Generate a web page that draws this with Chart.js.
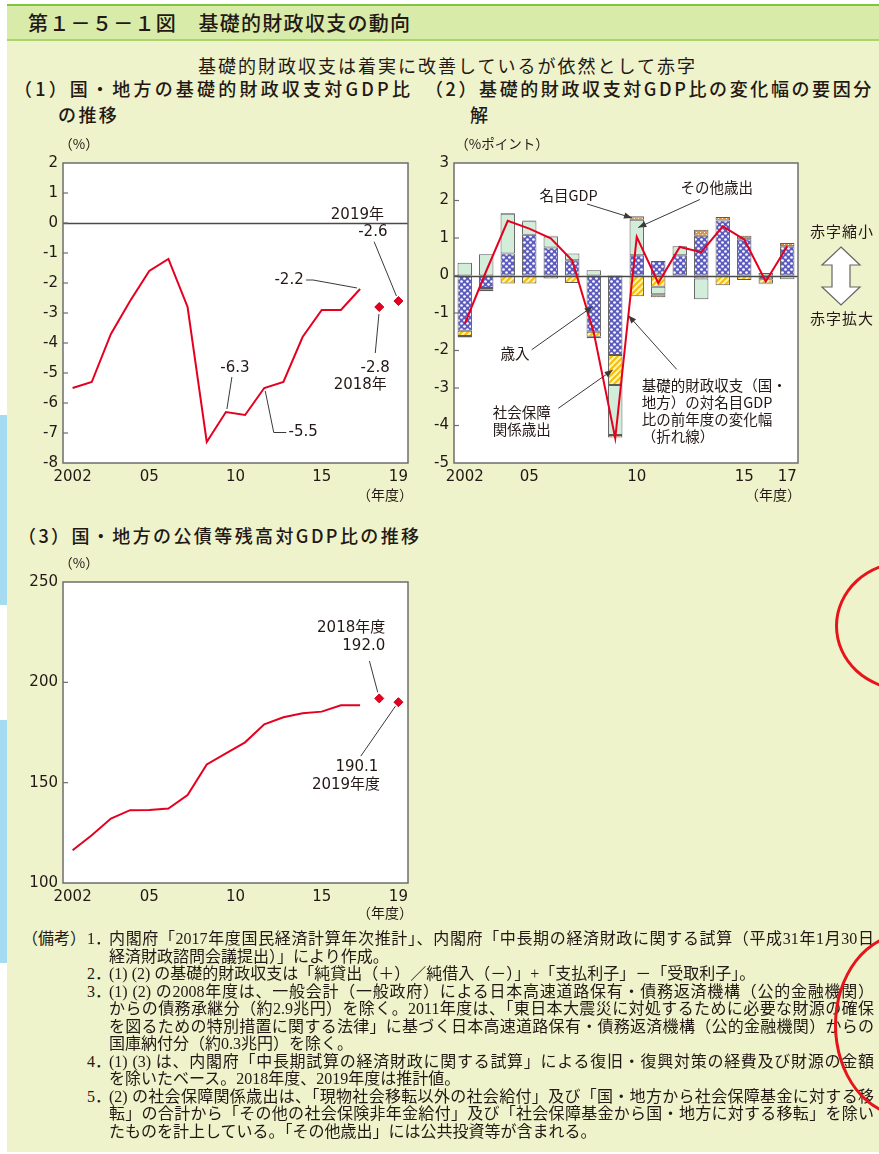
<!DOCTYPE html>
<html lang="ja">
<head>
<meta charset="utf-8">
<title>第1－5－1図 基礎的財政収支の動向</title>
<script src="https://cdn.jsdelivr.net/npm/chart.js@4.4.1/dist/chart.umd.min.js"></script>
<style>
  html, body { margin: 0; padding: 0; background: #fff; }
  body { position: relative; width: 879px; height: 1154px; overflow: hidden;
         font-family: "Noto Sans CJK JP", sans-serif; color: #231815; }
  .panel { position: absolute; left: 7px; top: 4px; width: 872px; height: 1148px; background: #eef3cb; }
  .band { position: absolute; left: 7px; top: 4px; width: 872px; height: 33px; background: #d9eba9;
          border-top: 2px solid #82c341; border-bottom: 2px solid #a8d46c; }
  .side { position: absolute; left: 0; width: 7px; background: #a4dbf1; }
  .t { position: absolute; white-space: nowrap; line-height: 1.2; transform: translateY(-50%); }
  .ttl { font-size: 18px; letter-spacing: 2.4px; font-weight: 500; }
  canvas { position: absolute; }
  .mark { position: absolute; box-sizing: border-box; border: 3px solid #e8141c; border-radius: 50%; }
  #notes { position: absolute; left: 0; top: 930px; width: 879px;
           font-family: "Liberation Serif", "Noto Sans CJK JP", serif; font-size: 16px; line-height: 17.5px; }
  #notes div { position: absolute; white-space: nowrap; }
  #notes .j { text-align: justify; text-align-last: justify; width: 765px; }
</style>
</head>
<body>
<div class="panel"></div>
<div class="band"></div>
<div class="side" style="top:415px;height:190px"></div>
<div class="side" style="top:720px;height:243px"></div>

<div class="t" style="left:28px;top:22.5px;font-size:20px;letter-spacing:1.3px;font-weight:500">第１－５－１図　基礎的財政収支の動向</div>
<div class="t" style="left:198px;top:66px;font-size:18px;letter-spacing:2px">基礎的財政収支は着実に改善しているが依然として赤字</div>
<div class="t ttl" style="left:14px;top:89px;letter-spacing:3.2px">（1）国・地方の基礎的財政収支対GDP比</div>
<div class="t ttl" style="left:58px;top:115px">の推移</div>
<div class="t ttl" style="left:425px;top:89px;letter-spacing:2.6px">（2）基礎的財政収支対GDP比の変化幅の要因分</div>
<div class="t ttl" style="left:470px;top:115px">解</div>
<div class="t ttl" style="left:18px;top:536px">（3）国・地方の公債等残高対GDP比の推移</div>

<canvas id="pbChart" width="400" height="380" style="left:20px;top:130px"></canvas>
<canvas id="factorChart" width="449" height="380" style="left:430px;top:130px"></canvas>
<canvas id="debtChart" width="400" height="380" style="left:20px;top:550px"></canvas>

<div id="notes">
  <div style="left:22px;top:0">（備考）</div>
  <div style="left:87px;top:0">1．</div>
  <div class="j" style="left:109px;top:0">内閣府「2017年度国民経済計算年次推計」、内閣府「中長期の経済財政に関する試算（平成31年1月30日</div>
  <div style="left:109px;top:17.5px">経済財政諮問会議提出）」により作成。</div>
  <div style="left:87px;top:35px">2．</div>
  <div style="left:109px;top:35px">(1) (2) の基礎的財政収支は「純貸出（＋）／純借入（－）」+「支払利子」－「受取利子」。</div>
  <div style="left:87px;top:52.5px">3．</div>
  <div class="j" style="left:109px;top:52.5px">(1) (2) の2008年度は、一般会計（一般政府）による日本高速道路保有・債務返済機構（公的金融機関）</div>
  <div class="j" style="left:109px;top:70px">からの債務承継分（約2.9兆円）を除く。2011年度は、「東日本大震災に対処するために必要な財源の確保</div>
  <div class="j" style="left:109px;top:87.5px">を図るための特別措置に関する法律」に基づく日本高速道路保有・債務返済機構（公的金融機関）からの</div>
  <div style="left:109px;top:105px">国庫納付分（約0.3兆円）を除く。</div>
  <div style="left:87px;top:122.5px">4．</div>
  <div class="j" style="left:109px;top:122.5px">(1) (3) は、内閣府「中長期試算の経済財政に関する試算」による復旧・復興対策の経費及び財源の金額</div>
  <div style="left:109px;top:140px">を除いたベース。2018年度、2019年度は推計値。</div>
  <div style="left:87px;top:157.5px">5．</div>
  <div class="j" style="left:109px;top:157.5px">(2) の社会保障関係歳出は、「現物社会移転以外の社会給付」及び「国・地方から社会保障基金に対する移</div>
  <div class="j" style="left:109px;top:175px">転」の合計から「その他の社会保険非年金給付」及び「社会保障基金から国・地方に対する移転」を除い</div>
  <div style="left:109px;top:192.5px">たものを計上している。「その他歳出」には公共投資等が含まれる。</div>
</div>

<div class="mark" style="left:835px;top:561px;width:140px;height:130px"></div>
<div class="mark" style="left:834px;top:933px;width:142px;height:184px"></div>

<script>
// ---------- (1) primary balance / GDP, national + local (%) ----------
const pbYears = [2002, 2003, 2004, 2005, 2006, 2007, 2008, 2009, 2010, 2011, 2012, 2013, 2014, 2015, 2016, 2017];
const pbRatio = [-5.5, -5.3, -3.7, -2.6, -1.6, -1.2, -2.8, -7.3, -6.3, -6.4, -5.5, -5.3, -3.8, -2.9, -2.9, -2.2];
const pbEstYears = [2018, 2019];
const pbEst = [-2.8, -2.6];

// fiscal-year axis of panels (1) and (3)
const fyTickAt = [2002, 2006, 2010.5, 2015, 2019];
const fyTickText = ['2002', '05', '10', '15', '19'];

// ---------- (2) factors of the yearly change (%pt) ----------
const factorYears = [2002, 2003, 2004, 2005, 2006, 2007, 2008, 2009, 2010, 2011, 2012, 2013, 2014, 2015, 2016, 2017];
const factorTickText = ['2002', '', '', '05', '', '', '', '', '10', '', '', '', '', '15', '', '17'];
const revenue        = [-1.47, -0.33, 0.59, 1.09, 0.75, 0.41, -1.50, -2.12, 0.54, 0.39, 0.54, 1.06, 1.47, 0.97, -0.10, 0.78];
const socialSecurity = [-0.14, -0.05, -0.21, -0.21, -0.08, -0.20, -0.13, -0.80, -0.55, -0.30, -0.02, -0.08, -0.26, -0.12, -0.11, 0.00];
const otherSpending  = [0.34, 0.57, 1.06, 0.36, 0.29, 0.18, 0.14, -1.33, 0.95, -0.20, 0.24, -0.55, 0.00, 0.00, 0.07, -0.10];
const nominalGdp     = [-0.04, -0.04, 0.02, 0.02, 0.02, 0.00, -0.04, -0.07, 0.09, -0.08, 0.01, 0.16, 0.09, 0.09, -0.02, 0.09];
const pbChange       = [-1.29, 0.12, 1.46, 1.25, 0.99, 0.40, -1.52, -4.34, 1.03, -0.20, 0.76, 0.62, 1.31, 0.96, -0.16, 0.78];

// ---------- (3) public debt / GDP (%) ----------
const debtYears = [2002, 2003, 2004, 2005, 2006, 2007, 2008, 2009, 2010, 2011, 2012, 2013, 2014, 2015, 2016, 2017];
const debtRatio = [116.3, 123.8, 132.1, 136.3, 136.4, 137.1, 143.8, 159.1, 164.6, 170.1, 179.1, 182.6, 184.6, 185.4, 188.6, 188.6];
const debtEstYears = [2018, 2019];
const debtEst = [192.0, 190.1];

// ---------- styling helpers ----------
const RED = '#e50020';
const INK = '#231815';
const LEAD = '#3a3a3a';
const NUM_FONT = '15px "DejaVu Sans", "Noto Sans CJK JP", sans-serif';
const JP_FONT = '14.5px "Noto Sans CJK JP", sans-serif';
const UNIT_FONT = '13.5px "Noto Sans CJK JP", sans-serif';
const TICK_FONT = { family: '"DejaVu Sans", sans-serif', size: 15 };

Chart.defaults.color = INK;
Chart.defaults.animation = false;

const fmt = v => v.toFixed(1);

function put(ctx, str, x, y, align, font) {
  ctx.font = font;
  ctx.textAlign = align || 'center';
  ctx.textBaseline = 'middle';
  ctx.fillStyle = INK;
  ctx.fillText(str, x, y);
}
function poly(ctx, pts) {
  ctx.beginPath();
  pts.forEach((p, i) => i ? ctx.lineTo(p[0], p[1]) : ctx.moveTo(p[0], p[1]));
  ctx.stroke();
}
function arrow(ctx, from, to) {
  poly(ctx, [from, to]);
  const a = Math.atan2(to[1] - from[1], to[0] - from[0]);
  const L = 8, W = 3.2;
  ctx.beginPath();
  ctx.moveTo(to[0], to[1]);
  ctx.lineTo(to[0] - L * Math.cos(a) + W * Math.sin(a), to[1] - L * Math.sin(a) - W * Math.cos(a));
  ctx.lineTo(to[0] - L * Math.cos(a) - W * Math.sin(a), to[1] - L * Math.sin(a) + W * Math.cos(a));
  ctx.closePath();
  ctx.fill();
}
function makePattern(size, draw) {
  const c = document.createElement('canvas');
  c.width = c.height = size;
  const g = c.getContext('2d');
  draw(g, size);
  return g.createPattern(c, 'repeat');
}

// fills of the stacked factors
const revenueFill = makePattern(6, (g, s) => {
  g.fillStyle = '#5c5cbf'; g.fillRect(0, 0, s, s);
  g.fillStyle = '#ffffff';
  [[1.5, 1.5], [4.5, 4.5]].forEach(([x, y]) => { g.beginPath(); g.arc(x, y, 1.35, 0, Math.PI * 2); g.fill(); });
});
const socialFill = makePattern(6, (g, s) => {
  g.fillStyle = '#fff4b8'; g.fillRect(0, 0, s, s);
  g.strokeStyle = '#f5be0a'; g.lineWidth = 2.2;
  [[-3, 3, 3, -3], [0, 6, 6, 0], [3, 9, 9, 3]].forEach(([a, b, c, d]) => { g.beginPath(); g.moveTo(a, b); g.lineTo(c, d); g.stroke(); });
});
const gdpFill = makePattern(4, (g, s) => {
  g.fillStyle = '#ef8f30'; g.fillRect(0, 0, s, s);
  g.fillStyle = '#fff3d8'; g.fillRect(0, 0, 1, 1); g.fillRect(2, 2, 1, 1);
});
const otherFill = '#d2eedb';

// white plot area, frame, inner ticks, zero line under the red line
const framePlugin = {
  id: 'frame',
  beforeDraw(chart) {
    const { ctx, chartArea: a } = chart;
    ctx.save();
    ctx.fillStyle = '#ffffff';
    ctx.fillRect(a.left, a.top, a.right - a.left, a.bottom - a.top);
    ctx.restore();
  },
  beforeDatasetsDraw(chart) { chart.$zeroDone = false; },
  beforeDatasetDraw(chart, args, opts) {
    if (opts.zero === undefined || chart.$zeroDone || args.meta.type !== 'line') return;
    chart.$zeroDone = true;
    const { ctx, chartArea: a, scales: { y } } = chart;
    const yy = Math.round(y.getPixelForValue(opts.zero)) + 0.5;
    ctx.save();
    ctx.strokeStyle = '#4a4a4a'; ctx.lineWidth = 1.3;
    poly(ctx, [[a.left, yy], [a.right, yy]]);
    ctx.restore();
  },
  afterDraw(chart) {
    const { ctx, chartArea: a, scales: { y } } = chart;
    ctx.save();
    ctx.strokeStyle = '#6e6e6e'; ctx.lineWidth = 1.5;
    ctx.strokeRect(a.left, a.top, a.right - a.left, a.bottom - a.top);
    ctx.lineWidth = 1.2;
    y.ticks.forEach((t, i) => {
      if (i === 0 || i === y.ticks.length - 1) return;
      const yy = y.getPixelForValue(t.value);
      poly(ctx, [[a.left, yy], [a.left + 5, yy]]);
    });
    ctx.restore();
  }
};

function yearAxis() {
  return {
    type: 'linear', min: 2001.5, max: 2019.5,
    afterBuildTicks: s => { s.ticks = fyTickAt.map(v => ({ value: v })); },
    afterFit: s => { s.height = 47; },
    grid: { display: false, drawTicks: false },
    border: { display: false },
    ticks: { autoSkip: false, maxRotation: 0, padding: 5, font: TICK_FONT, callback: (v, i) => fyTickText[i] }
  };
}
function valueAxis(min, max, step, width) {
  return {
    min, max,
    afterFit: s => { s.width = width; },
    grid: { display: false, drawTicks: false },
    border: { display: false },
    ticks: { stepSize: step, padding: 5, font: TICK_FONT }
  };
}
const baseOptions = (padTop, padRight) => ({
  responsive: false,
  devicePixelRatio: 1,
  animation: false,
  layout: { padding: { top: padTop, right: padRight, left: 0, bottom: 0 } },
  events: [],
});

// ---------- chart (1) ----------
const pbNotes = {
  id: 'pbNotes',
  afterDatasetsDraw(chart) {
    const { ctx, chartArea: a, scales: { x, y } } = chart;
    const P = yr => {
      let i = pbYears.indexOf(yr), v;
      v = i >= 0 ? pbRatio[i] : pbEst[pbEstYears.indexOf(yr)];
      return { x: x.getPixelForValue(yr), y: y.getPixelForValue(v), v };
    };
    ctx.save();
    ctx.strokeStyle = LEAD; ctx.lineWidth = 1;
    let p = P(2017);
    put(ctx, fmt(p.v), p.x - 71, p.y - 9, 'center', NUM_FONT);
    poly(ctx, [[p.x - 54, p.y - 9], [p.x - 47, p.y - 9], [p.x - 3, p.y - 1]]);
    p = P(2010);
    put(ctx, fmt(p.v), p.x + 9, p.y - 44, 'center', NUM_FONT);
    poly(ctx, [[p.x + 6, p.y - 35], [p.x + 1, p.y - 3]]);
    p = P(2012);
    put(ctx, fmt(p.v), p.x + 39, p.y + 44.5, 'center', NUM_FONT);
    poly(ctx, [[p.x + 1, p.y + 3], [p.x + 9.5, p.y + 44.5], [p.x + 22, p.y + 44.5]]);
    p = P(2018);
    put(ctx, fmt(p.v), p.x - 4, p.y + 61, 'center', NUM_FONT);
    put(ctx, '2018年', p.x - 19, p.y + 78, 'center', NUM_FONT);
    poly(ctx, [[p.x - 4, p.y + 46], [p.x - 0.3, p.y + 7]]);
    p = P(2019);
    put(ctx, fmt(p.v), p.x - 25.6, p.y - 69.3, 'center', NUM_FONT);
    put(ctx, '2019年', p.x - 41, p.y - 86, 'center', NUM_FONT);
    poly(ctx, [[p.x - 24.3, p.y - 59.3], [p.x - 2, p.y - 5]]);
    put(ctx, '（%）', a.left + 16, a.top - 19, 'center', UNIT_FONT);
    put(ctx, '（年度）', a.right - 23, a.bottom + 32, 'center', '14px "Noto Sans CJK JP", sans-serif');
    ctx.restore();
  }
};

new Chart(document.getElementById('pbChart'), {
  type: 'line',
  data: {
    datasets: [
      { label: '国・地方の基礎的財政収支対GDP比',
        data: pbYears.map((yr, i) => ({ x: yr, y: pbRatio[i] })),
        borderColor: RED, borderWidth: 2, pointRadius: 0, tension: 0 },
      { label: '推計値',
        data: pbEstYears.map((yr, i) => ({ x: yr, y: pbEst[i] })),
        showLine: false, pointStyle: 'rectRot', pointRadius: 4.5,
        backgroundColor: RED, borderColor: '#c4001c', borderWidth: 1 }
    ]
  },
  options: Object.assign(baseOptions(33, 12), {
    plugins: { legend: { display: false }, tooltip: { enabled: false }, frame: { zero: 0 } },
    scales: { x: yearAxis(), y: valueAxis(-8, 2, 1, 43) }
  }),
  plugins: [framePlugin, pbNotes]
});

// ---------- chart (2) ----------
const factorNotes = {
  id: 'factorNotes',
  afterDatasetsDraw(chart) {
    const { ctx, chartArea: a, scales: { x, y } } = chart;
    const T = (i, v) => [x.getPixelForValue(i), y.getPixelForValue(v)];
    ctx.save();
    ctx.strokeStyle = LEAD; ctx.fillStyle = LEAD; ctx.lineWidth = 1;
    const i10 = factorYears.indexOf(2010);
    // 名目GDP: top slice of FY2010
    let t = T(i10 - 0.22, revenue[i10] + otherSpending[i10] + nominalGdp[i10] / 2);
    arrow(ctx, [t[0] - 45, t[1] - 14], t);
    put(ctx, '名目GDP', t[0] - 63.4, t[1] - 22.3, 'center', JP_FONT);
    // その他歳出
    ctx.fillStyle = LEAD;
    t = T(i10 + 0.07, revenue[i10] + otherSpending[i10] * 0.78);
    arrow(ctx, [t[0] + 61.7, t[1] - 28], t);
    put(ctx, 'その他歳出', t[0] + 78.4, t[1] - 39.8, 'center', JP_FONT);
    // 歳入: FY2008
    ctx.fillStyle = LEAD;
    const i08 = factorYears.indexOf(2008);
    t = T(i08 - 0.05, revenue[i08] * 0.55);
    arrow(ctx, [t[0] - 61, t[1] + 43.3], t);
    put(ctx, '歳入', t[0] - 77.7, t[1] + 46.6, 'center', JP_FONT);
    // 社会保障関係歳出: FY2009
    ctx.fillStyle = LEAD;
    const i09 = factorYears.indexOf(2009);
    t = T(i09 - 0.12, revenue[i09] + socialSecurity[i09] * 0.5);
    arrow(ctx, [t[0] - 54.4, t[1] + 38.3], t);
    put(ctx, '社会保障', t[0] - 91, t[1] + 42, 'center', JP_FONT);
    put(ctx, '関係歳出', t[0] - 91, t[1] + 59.7, 'center', JP_FONT);
    // 折れ線 between FY2009 and FY2010
    ctx.fillStyle = LEAD;
    const f = 0.61;
    t = T(i09 + f, pbChange[i09] + (pbChange[i10] - pbChange[i09]) * f);
    arrow(ctx, [t[0] + 48.4, t[1] + 54], t);
    ['基礎的財政収支（国・', '地方）の対名目GDP', '比の前年度の変化幅', '（折れ線）'].forEach((s, k) => {
      put(ctx, s, t[0] + 13.4, t[1] + 69.7 + k * 17, 'left', JP_FONT);
    });
    // units
    put(ctx, '（%ポイント）', a.left + 48, a.top - 19, 'center', UNIT_FONT);
    put(ctx, '（年度）', a.right - 25, a.bottom + 32, 'center', '14px "Noto Sans CJK JP", sans-serif');
    // deficit direction marker
    const cx = a.right + 43, top = a.top + 84, bot = a.top + 142, hw = 19, sw = 9, hh = 18;
    ctx.beginPath();
    ctx.moveTo(cx, top); ctx.lineTo(cx + hw, top + hh); ctx.lineTo(cx + sw, top + hh);
    ctx.lineTo(cx + sw, bot - hh); ctx.lineTo(cx + hw, bot - hh); ctx.lineTo(cx, bot);
    ctx.lineTo(cx - hw, bot - hh); ctx.lineTo(cx - sw, bot - hh); ctx.lineTo(cx - sw, top + hh);
    ctx.lineTo(cx - hw, top + hh); ctx.closePath();
    ctx.fillStyle = '#ffffff'; ctx.fill();
    ctx.strokeStyle = '#666'; ctx.lineWidth = 1.2; ctx.stroke();
    ctx.letterSpacing = '1px';
    put(ctx, '赤字縮小', cx + 1, a.top + 68.7, 'center', '15px "Noto Sans CJK JP", sans-serif');
    put(ctx, '赤字拡大', cx + 1, a.top + 155.3, 'center', '15px "Noto Sans CJK JP", sans-serif');
    ctx.letterSpacing = '0px';
    ctx.restore();
  }
};

const barStyle = { borderColor: '#5a5a5a', borderWidth: 1, borderSkipped: false,
                   barPercentage: 0.67, categoryPercentage: 1.0, stack: 'factors', order: 1 };

new Chart(document.getElementById('factorChart'), {
  type: 'bar',
  data: {
    labels: factorYears,
    datasets: [
      Object.assign({ label: '歳入', data: revenue, backgroundColor: revenueFill }, barStyle),
      Object.assign({ label: '社会保障関係歳出', data: socialSecurity, backgroundColor: socialFill }, barStyle),
      Object.assign({ label: 'その他歳出', data: otherSpending, backgroundColor: otherFill }, barStyle),
      Object.assign({ label: '名目GDP', data: nominalGdp, backgroundColor: gdpFill }, barStyle),
      { type: 'line', label: '基礎的財政収支対名目GDP比の前年度の変化幅', data: pbChange,
        borderColor: RED, borderWidth: 2, pointRadius: 0, tension: 0, stack: 'line', order: 0 }
    ]
  },
  options: Object.assign(baseOptions(33, 81), {
    plugins: { legend: { display: false }, tooltip: { enabled: false }, frame: { zero: 0 } },
    scales: {
      x: { type: 'category', offset: true, stacked: true,
           afterFit: s => { s.height = 47; },
           grid: { display: false, drawTicks: false }, border: { display: false },
           ticks: { autoSkip: false, maxRotation: 0, padding: 5, font: TICK_FONT,
                    callback: (v, i) => factorTickText[i] } },
      y: Object.assign(valueAxis(-5, 3, 1, 24), { stacked: true })
    }
  }),
  plugins: [framePlugin, factorNotes]
});

// ---------- chart (3) ----------
const debtNotes = {
  id: 'debtNotes',
  afterDatasetsDraw(chart) {
    const { ctx, chartArea: a, scales: { x, y } } = chart;
    const P = yr => {
      const v = debtEst[debtEstYears.indexOf(yr)];
      return { x: x.getPixelForValue(yr), y: y.getPixelForValue(v), v };
    };
    ctx.save();
    ctx.strokeStyle = LEAD; ctx.lineWidth = 1;
    let p = P(2018);
    put(ctx, '2018年度', p.x + 6, p.y - 70, 'right', NUM_FONT);
    put(ctx, fmt(p.v), p.x + 6, p.y - 52.3, 'right', NUM_FONT);
    poly(ctx, [[p.x - 9.8, p.y - 37.3], [p.x - 1.5, p.y - 6]]);
    p = P(2019);
    put(ctx, fmt(p.v), p.x - 20, p.y + 64.5, 'right', NUM_FONT);
    put(ctx, '2019年度', p.x - 18.3, p.y + 83, 'right', NUM_FONT);
    poly(ctx, [[p.x - 37.6, p.y + 53.9], [p.x - 3, p.y + 4]]);
    put(ctx, '（%）', a.left + 16, a.top - 19, 'center', UNIT_FONT);
    put(ctx, '（年度）', a.right - 23, a.bottom + 30, 'center', '14px "Noto Sans CJK JP", sans-serif');
    ctx.restore();
  }
};

new Chart(document.getElementById('debtChart'), {
  type: 'line',
  data: {
    datasets: [
      { label: '国・地方の公債等残高対GDP比',
        data: debtYears.map((yr, i) => ({ x: yr, y: debtRatio[i] })),
        borderColor: RED, borderWidth: 2, pointRadius: 0, tension: 0 },
      { label: '推計値',
        data: debtEstYears.map((yr, i) => ({ x: yr, y: debtEst[i] })),
        showLine: false, pointStyle: 'rectRot', pointRadius: 4.5,
        backgroundColor: RED, borderColor: '#c4001c', borderWidth: 1 }
    ]
  },
  options: Object.assign(baseOptions(32, 12), {
    plugins: { legend: { display: false }, tooltip: { enabled: false }, frame: {} },
    scales: { x: yearAxis(), y: valueAxis(100, 250, 50, 43) }
  }),
  plugins: [framePlugin, debtNotes]
});
</script>
</body>
</html>
